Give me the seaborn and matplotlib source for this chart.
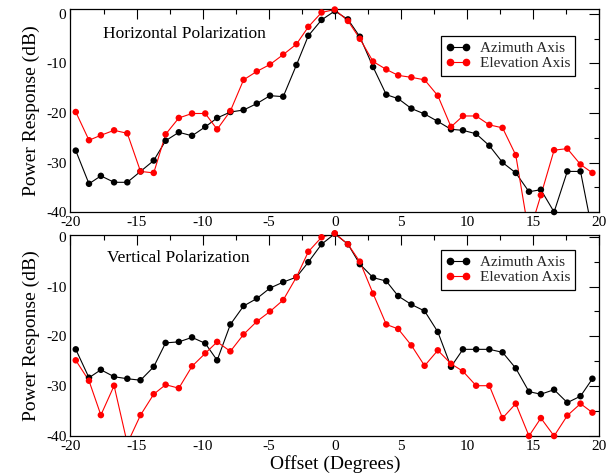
import matplotlib
matplotlib.use("Agg")
import matplotlib.pyplot as plt
import pandas as pd
import seaborn as sns
from matplotlib.lines import Line2D
from matplotlib.ticker import MultipleLocator

# Angular offsets of the measurement points (degrees)
offsets = [-19.6, -18.6, -17.7, -16.7, -15.7, -14.7, -13.7, -12.8, -11.8, -10.8,
           -9.8, -8.9, -7.9, -6.9, -5.9, -4.9, -3.9, -2.9, -2.0, -1.0,
           0.0,
           1.0, 1.9, 2.9, 3.9, 4.8, 5.8, 6.8, 7.8, 8.8, 9.7,
           10.7, 11.7, 12.7, 13.7, 14.7, 15.6, 16.6, 17.6, 18.6, 19.5]

# Horizontal polarization (dB)
horiz_azimuth = [-27.6, -34.3, -32.7, -34.0, -34.0, -31.8, -29.6, -25.6, -23.9, -24.6,
                 -22.8, -21.0, -19.8, -19.4, -18.1, -16.5, -16.7, -10.3, -4.4, -1.2,
                 0.6,
                 -1.1, -4.6, -10.7, -16.3, -17.1, -19.1, -20.2, -21.7, -23.3, -23.5,
                 -24.2, -26.6, -30.0, -32.1, -35.9, -35.5, -40.0, -31.8, -31.8, -44.0]
horiz_elevation = [-19.8, -25.5, -24.5, -23.5, -24.1, -31.8, -32.1, -24.3, -21.0, -20.1,
                   -20.1, -23.3, -19.6, -13.3, -11.6, -10.2, -8.2, -6.1, -2.6, 0.3,
                   0.9,
                   -1.4, -5.0, -9.6, -11.2, -12.4, -12.8, -13.3, -16.5, -22.8, -20.6,
                   -20.6, -22.4, -23.0, -28.5, -44.5, -36.6, -27.5, -27.2, -30.4, -32.1]

# Vertical polarization (dB)
vert_azimuth = [-22.6, -28.3, -26.7, -28.1, -28.5, -28.8, -26.1, -21.3, -21.1, -20.2,
                -21.4, -24.8, -17.6, -13.9, -12.4, -10.3, -9.1, -8.1, -5.1, -1.5,
                0.6,
                -1.5, -5.5, -8.2, -8.9, -11.9, -13.6, -14.9, -19.1, -26.1, -22.6,
                -22.6, -22.6, -23.2, -26.4, -31.1, -31.6, -30.7, -33.3, -32.0, -28.5]
vert_elevation = [-24.8, -28.9, -35.8, -29.9, -41.5, -35.8, -31.6, -29.7, -30.4, -26.0,
                  -23.4, -21.1, -23.0, -19.6, -17.0, -15.0, -12.7, -8.1, -3.0, -0.1,
                  0.7,
                  -1.5, -5.0, -11.4, -17.6, -18.5, -21.8, -25.9, -22.8, -25.5, -27.0,
                  -29.9, -29.9, -36.4, -33.5, -40.0, -36.4, -40.0, -35.9, -33.5, -35.3]

series_names = ["Azimuth Axis", "Elevation Axis"]
series_colors = {"Azimuth Axis": "black", "Elevation Axis": "#ff0000"}

sns.set_theme(style="white")
plt.rcParams["font.family"] = ["Liberation Serif", "DejaVu Serif"]
plt.rcParams["axes.unicode_minus"] = False

fig = plt.figure(figsize=(6.14, 4.76), dpi=100)
ax_top = fig.add_axes([0.1148, 0.5546, 0.8608, 0.4259])
ax_bot = fig.add_axes([0.1148, 0.0840, 0.8608, 0.4233])


def draw_panel(ax, azimuth, elevation, title, ytop, legend_y, title_xy):
    df = pd.DataFrame({
        "Offset": offsets + offsets,
        "Power": azimuth + elevation,
        "Axis": [series_names[0]] * len(offsets) + [series_names[1]] * len(offsets),
    })
    sns.lineplot(data=df, x="Offset", y="Power", hue="Axis", palette=series_colors,
                 estimator=None, sort=False, linewidth=0.8, legend=False, ax=ax)
    # markers that sit inside the plotted range are drawn whole, even on the frame
    visible = df[df["Power"] >= -40]
    sns.scatterplot(data=visible, x="Offset", y="Power", hue="Axis",
                    palette=series_colors, s=22, linewidth=0, legend=False,
                    ax=ax, clip_on=False, zorder=3)

    ax.set_xlim(-20, 20)
    ax.set_ylim(-40, ytop)
    ax.xaxis.set_major_locator(MultipleLocator(5))
    ax.xaxis.set_minor_locator(MultipleLocator(2.5))
    ax.yaxis.set_major_locator(MultipleLocator(10))
    ax.yaxis.set_minor_locator(MultipleLocator(5))
    ax.tick_params(which="both", direction="in", top=True, right=True,
                   colors="black", labelsize=11, width=0.8, pad=3)
    ax.tick_params(which="major", length=7)
    ax.tick_params(which="minor", length=3.6)
    for sp in ax.spines.values():
        sp.set_color("black")
        sp.set_linewidth(0.9)

    ax.set_ylabel("Power Response (dB)", fontsize=14, color="black")
    ax.set_xlabel("")
    ax.text(title_xy[0], title_xy[1], title, transform=ax.transAxes,
            fontsize=12.5, color="black", ha="left", va="center")

    handles = [Line2D([0], [0], color=series_colors[n], marker="o", markersize=4.5,
                      linewidth=0.8) for n in series_names]
    leg = ax.legend(handles, series_names, loc="upper right",
                    bbox_to_anchor=(0.955, legend_y), numpoints=2, frameon=True,
                    fancybox=False, edgecolor="black", framealpha=1, fontsize=11,
                    handlelength=1.6, handletextpad=0.6, borderpad=0.35,
                    labelspacing=0.1, borderaxespad=0)
    leg.get_frame().set_linewidth(0.9)


draw_panel(ax_top, horiz_azimuth, horiz_elevation, "Horizontal Polarization",
           0.95, 0.868, (0.061, 0.878))
draw_panel(ax_bot, vert_azimuth, vert_elevation, "Vertical Polarization",
           0.45, 0.923, (0.0685, 0.883))
ax_bot.set_xlabel("Offset (Degrees)", fontsize=14, color="black", labelpad=1)

fig.savefig("out.png", dpi=100, facecolor="white")
